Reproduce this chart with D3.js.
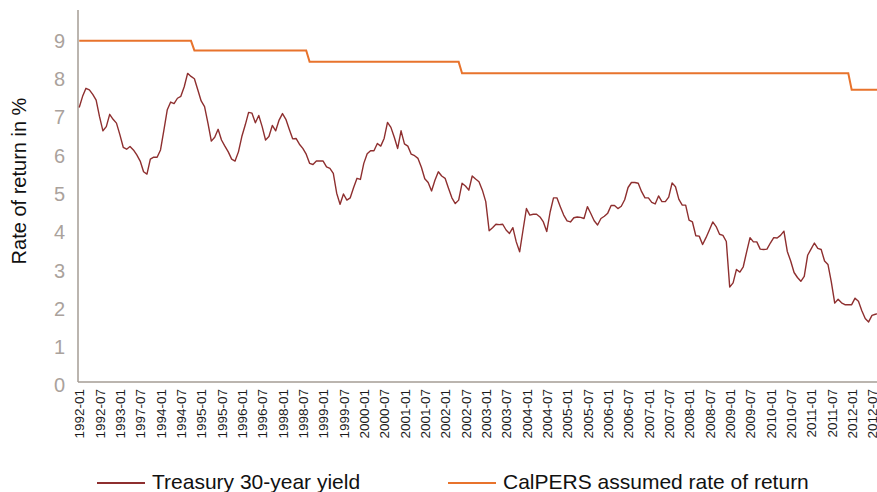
<!DOCTYPE html>
<html>
<head>
<meta charset="utf-8">
<script src="https://cdn.jsdelivr.net/npm/d3@7"></script>
<style>
  html, body { margin: 0; padding: 0; background: #fff; }
  svg { display: block; font-family: "Liberation Sans", Arial, Helvetica, sans-serif; }
</style>
</head>
<body>
<div id="chart"></div>
<script>
// x tick labels, one every 6 months (as printed on the original)
const tickLabels = [
  "1992-01", "1992-07", "1993-01", "1997-07", "1994-01", "1994-07", "1995-01", "1995-07",
  "1996-01", "1996-07", "1998-01", "1998-07", "1999-01", "1999-07", "2000-01", "2000-07",
  "2001-01", "2001-07", "2002-01", "2002-07", "2003-01", "2003-07", "2004-01", "2004-07",
  "2005-01", "2005-07", "2006-01", "2006-07", "2007-01", "2007-07", "2008-01", "2008-07",
  "2009-01", "2009-07", "2010-01", "2010-07", "2011-01", "2011-07", "2012-01", "2012-07"
];
const monthsPerTick = 6;

const yTicks = [0, 1, 2, 3, 4, 5, 6, 7, 8, 9];

// Treasury 30-year yield, monthly (one row per year)
const treasuryYield = [
  7.26, 7.55, 7.76, 7.72, 7.60, 7.45, 7.02, 6.65, 6.76, 7.08, 6.95, 6.85,
  6.55, 6.22, 6.17, 6.24, 6.15, 6.02, 5.86, 5.58, 5.52, 5.91, 5.96, 5.96,
  6.15, 6.67, 7.20, 7.40, 7.36, 7.50, 7.55, 7.80, 8.15, 8.07, 8.01, 7.72,
  7.43, 7.28, 6.85, 6.38, 6.48, 6.69, 6.41, 6.25, 6.10, 5.91, 5.86, 6.10,
  6.50, 6.80, 7.13, 7.11, 6.86, 7.05, 6.76, 6.41, 6.50, 6.79, 6.65, 6.93,
  7.10, 6.95, 6.69, 6.44, 6.45, 6.30, 6.19, 6.04, 5.80, 5.77, 5.86, 5.86,
  5.86, 5.71, 5.67, 5.54, 5.02, 4.73, 5.00, 4.84, 4.90, 5.17, 5.41, 5.38,
  5.80, 6.05, 6.13, 6.13, 6.32, 6.25, 6.45, 6.87, 6.74, 6.48, 6.19, 6.65,
  6.31, 6.25, 6.04, 6.00, 5.93, 5.70, 5.40, 5.30, 5.08, 5.36, 5.58, 5.47,
  5.41, 5.15, 4.90, 4.75, 4.84, 5.28, 5.21, 5.10, 5.47, 5.39, 5.32, 5.10,
  4.80, 4.04, 4.12, 4.21, 4.20, 4.21, 4.06, 3.97, 4.12, 3.75, 3.49, 4.06,
  4.62, 4.45, 4.47, 4.47, 4.40, 4.27, 4.02, 4.53, 4.90, 4.90, 4.67, 4.45,
  4.30, 4.27, 4.38, 4.40, 4.39, 4.36, 4.67, 4.49, 4.30, 4.19, 4.36, 4.42,
  4.50, 4.70, 4.70, 4.62, 4.68, 4.85, 5.17, 5.30, 5.30, 5.28, 5.06, 4.90,
  4.90, 4.78, 4.74, 4.95, 4.80, 4.80, 4.92, 5.29, 5.19, 4.86, 4.71, 4.71,
  4.32, 4.27, 3.91, 3.90, 3.68, 3.86, 4.06, 4.27, 4.15, 3.95, 3.92, 3.76,
  2.57, 2.68, 3.03, 2.96, 3.10, 3.49, 3.86, 3.75, 3.75, 3.56, 3.55, 3.56,
  3.72, 3.86, 3.85, 3.92, 4.03, 3.50, 3.25, 2.95, 2.82, 2.72, 2.85, 3.40,
  3.56, 3.72, 3.58, 3.55, 3.25, 3.16, 2.70, 2.15, 2.25, 2.16, 2.11, 2.11,
  2.11, 2.28, 2.20, 1.95, 1.75, 1.66, 1.83, 1.86, 1.88
];

// CalPERS assumed rate of return: corner points of the step line (month index, rate)
const calpersMonth = [0, 33, 34, 67, 68, 112, 113, 227, 228, 236];
const calpersRate  = [9.0, 9.0, 8.75, 8.75, 8.45, 8.45, 8.15, 8.15, 7.72, 7.72];

const seriesNames = ["Treasury 30-year yield", "CalPERS assumed rate of return"];
const seriesColors = ["#8e2f2f", "#e8732c"];

const width = 877, height = 492;
const axisColor = "#a59c95";

const svg = d3.select("#chart").append("svg")
  .attr("width", width)
  .attr("height", height);

const x = d3.scaleLinear()
  .domain([0, (tickLabels.length - 1) * monthsPerTick])
  .range([79.2, 872]);

const y = d3.scaleLinear()
  .domain([0, 9])
  .range([385.5, 40.8]);

// frame lines
svg.append("line")
  .attr("x1", 78).attr("x2", 78)
  .attr("y1", 10).attr("y2", 382)
  .style("stroke", axisColor)
  .style("stroke-width", 1.5);

svg.append("line")
  .attr("x1", 78).attr("x2", width)
  .attr("y1", 382).attr("y2", 382)
  .style("stroke", axisColor)
  .style("stroke-width", 1.5);

// y axis labels
const yAxis = d3.axisLeft(y).tickValues(yTicks).tickSize(0).tickPadding(0);
svg.append("g")
  .attr("class", "y axis")
  .attr("transform", "translate(65,0)")
  .call(yAxis)
  .call(g => g.select(".domain").remove())
  .selectAll("text")
  .style("font-family", "'Liberation Sans', Arial, sans-serif")
  .style("font-size", "20px")
  .style("fill", "#aaa29c");

// x axis labels, rotated
const xAxis = d3.axisBottom(x)
  .tickValues(tickLabels.map((d, i) => i * monthsPerTick))
  .tickFormat((d, i) => tickLabels[i])
  .tickSize(0);

svg.append("g")
  .attr("class", "x axis")
  .attr("transform", "translate(0,382)")
  .call(xAxis)
  .call(g => g.select(".domain").remove())
  .selectAll("text")
  .attr("transform", "rotate(-90)")
  .attr("x", -7)
  .attr("y", 0)
  .attr("dy", "0.35em")
  .style("text-anchor", "end")
  .style("font-family", "'Liberation Sans', Arial, sans-serif")
  .style("font-size", "13.5px")
  .style("fill", "#1a1a1a");

// lines
const treasuryLine = d3.line()
  .x((d, i) => x(i))
  .y(d => y(d));

svg.append("path")
  .datum(treasuryYield)
  .attr("d", treasuryLine)
  .style("fill", "none")
  .style("stroke", seriesColors[0])
  .style("stroke-width", 1.4)
  .style("stroke-linejoin", "round");

const calpersLine = d3.line()
  .x(d => x(d[0]))
  .y(d => y(d[1]));

svg.append("path")
  .datum(calpersMonth.map((m, i) => [m, calpersRate[i]]))
  .attr("d", calpersLine)
  .style("fill", "none")
  .style("stroke", seriesColors[1])
  .style("stroke-width", 2);

// y title
svg.append("text")
  .attr("transform", "translate(26,181) rotate(-90)")
  .style("text-anchor", "middle")
  .style("font-size", "20px")
  .style("fill", "#111")
  .text("Rate of return in %");

// legend
const legendX = [97, 448];
const legend = svg.selectAll(".legend")
  .data(seriesNames)
  .enter().append("g")
  .attr("class", "legend")
  .attr("transform", (d, i) => `translate(${legendX[i]},483)`);

legend.append("line")
  .attr("x1", 0).attr("x2", 48)
  .attr("y1", 0).attr("y2", 0)
  .style("stroke", (d, i) => seriesColors[i])
  .style("stroke-width", 2);

legend.append("text")
  .attr("x", 55)
  .attr("y", 6)
  .style("font-size", "21px")
  .style("fill", "#111")
  .text(d => d);
</script>
</body>
</html>
